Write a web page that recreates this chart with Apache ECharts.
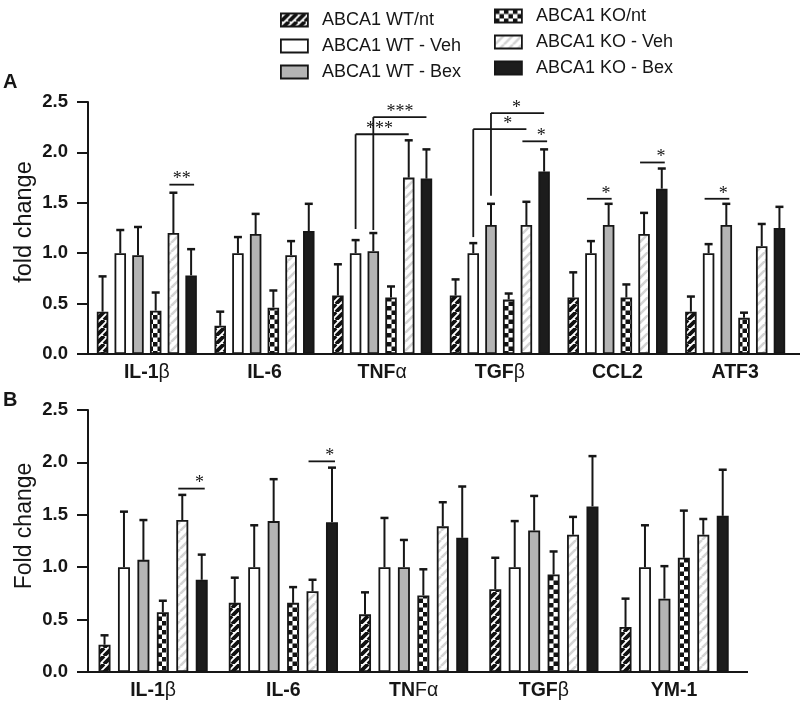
<!DOCTYPE html>
<html><head><meta charset="utf-8">
<script src="https://cdn.jsdelivr.net/npm/echarts@6/dist/echarts.min.js"></script>
<style>html,body{margin:0;padding:0;background:#fff}#c{width:800px;height:706px}</style>
</head><body><div id="c"></div>
<script>
// ---------- data ----------
const groups = ['ABCA1 WT/nt','ABCA1 WT - Veh','ABCA1 WT - Bex','ABCA1 KO/nt','ABCA1 KO - Veh','ABCA1 KO - Bex'];
const yTicks = [0, 0.5, 1.0, 1.5, 2.0, 2.5];

// Panel A
const catsA = ['IL-1β','IL-6','TNFα','TGFβ','CCL2','ATF3'];
const wtNtA  = [0.42, 0.28, 0.58, 0.58, 0.56, 0.42];
const wtVehA = [1.00, 1.00, 1.00, 1.00, 1.00, 1.00];
const wtBexA = [0.98, 1.19, 1.02, 1.28, 1.28, 1.28];
const koNtA  = [0.43, 0.46, 0.56, 0.54, 0.56, 0.36];
const koVehA = [1.20, 0.98, 1.75, 1.28, 1.19, 1.07];
const koBexA = [0.78, 1.22, 1.74, 1.81, 1.64, 1.25];
const wtNtErrA  = [0.35, 0.14, 0.31, 0.16, 0.25, 0.15];
const wtVehErrA = [0.23, 0.16, 0.13, 0.10, 0.12, 0.09];
const wtBexErrA = [0.28, 0.20, 0.18, 0.21, 0.21, 0.21];
const koNtErrA  = [0.18, 0.17, 0.11, 0.06, 0.13, 0.05];
const koVehErrA = [0.40, 0.14, 0.37, 0.23, 0.21, 0.22];
const koBexErrA = [0.26, 0.27, 0.29, 0.22, 0.20, 0.21];
// significance: [category, fromBar, toBar, lineValue, stars, stemBottomValue, labelFraction]
const sigA = [
  ['IL-1β', 4, 5, 1.68, '**', null, 0.5],
  ['TNFα', 1, 4, 2.18, '***', 1.24, 0.45],
  ['TNFα', 2, 5, 2.35, '***', 1.23, 0.5],
  ['TGFβ', 1, 4, 2.23, '*', 1.16, 0.65],
  ['TGFβ', 2, 5, 2.39, '*', 1.57, 0.48],
  ['TGFβ', 4, 5, 2.11, '*', null, 0.76],
  ['CCL2', 1, 2, 1.54, '*', null, 0.77],
  ['CCL2', 4, 5, 1.90, '*', null, 0.85],
  ['ATF3', 1, 2, 1.54, '*', null, 0.75]
];

// Panel B
const catsB = ['IL-1β','IL-6','TNFα','TGFβ','YM-1'];
const wtNtB  = [0.26, 0.66, 0.55, 0.79, 0.43];
const wtVehB = [1.00, 1.00, 1.00, 1.00, 1.00];
const wtBexB = [1.07, 1.44, 1.00, 1.35, 0.70];
const koNtB  = [0.57, 0.66, 0.73, 0.93, 1.09];
const koVehB = [1.45, 0.77, 1.39, 1.31, 1.31];
const koBexB = [0.88, 1.43, 1.28, 1.58, 1.49];
const wtNtErrB  = [0.09, 0.24, 0.21, 0.30, 0.27];
const wtVehErrB = [0.53, 0.40, 0.47, 0.44, 0.40];
const wtBexErrB = [0.38, 0.40, 0.26, 0.33, 0.31];
const koNtErrB  = [0.11, 0.15, 0.25, 0.22, 0.45];
const koVehErrB = [0.24, 0.11, 0.23, 0.17, 0.15];
const koBexErrB = [0.24, 0.52, 0.49, 0.48, 0.44];
const sigB = [
  ['IL-1β', 4, 5, 1.75, '*', null, 0.8],
  ['IL-6', 4, 5, 2.01, '*', null, 0.8]
];

const valsA = [wtNtA, wtVehA, wtBexA, koNtA, koVehA, koBexA];
const errsA = [wtNtErrA, wtVehErrA, wtBexErrA, koNtErrA, koVehErrA, koBexErrA];
const valsB = [wtNtB, wtVehB, wtBexB, koNtB, koVehB, koBexB];
const errsB = [wtNtErrB, wtVehErrB, wtBexErrB, koNtErrB, koVehErrB, koBexErrB];

// ---------- styles ----------
const FONT = '"Liberation Sans", Arial, sans-serif';
const INK = '#161616';
function hatch(fg, bg, size, lw) {
  const c = document.createElement('canvas'); c.width = size; c.height = size;
  const g = c.getContext('2d');
  g.fillStyle = bg; g.fillRect(0, 0, size, size);
  g.strokeStyle = fg; g.lineWidth = lw; g.beginPath();
  for (const k of [-size, 0, size]) { g.moveTo(k, size); g.lineTo(k + size, 0); }
  g.stroke();
  return { image: c, repeat: 'repeat' };
}
function checker(size) {
  const c = document.createElement('canvas'); c.width = size * 2; c.height = size * 2;
  const g = c.getContext('2d');
  g.fillStyle = '#ffffff'; g.fillRect(0, 0, size * 2, size * 2);
  g.fillStyle = '#111111'; g.fillRect(0, 0, size, size); g.fillRect(size, size, size, size);
  return { image: c, repeat: 'repeat' };
}
const fills = [
  hatch('#111111', '#ffffff', 8, 3.8),
  '#ffffff',
  '#b4b4b4',
  checker(4.5),
  hatch('#d4d4d4', '#ffffff', 9, 2.6),
  '#1c1c1c'
];

const BW_A = 11.5, GAP_A = 0.54, PITCH_A = BW_A * (1 + GAP_A);
const BW_B = 12, GAP_B = 0.62, PITCH_B = BW_B * (1 + GAP_B);

function catLabel(panel) {
  return function (v) {
    if (panel === 'B' && v === 'TNFα') return '{b|TN}{g|Fα}';
    return v.replace(/([^\u0370-\u03FF]+)|([\u0370-\u03FF]+)/g, (m, a, b) => a ? '{b|' + a + '}' : '{g|' + b + '}');
  };
}
const richCat = {
  b: { fontFamily: FONT, fontWeight: 'bold', fontSize: 19.5, color: INK },
  g: { fontFamily: FONT, fontWeight: 'normal', fontSize: 19.5, color: INK }
};

function xAxisFor(idx, cats, panel) {
  return {
    type: 'category', gridIndex: idx, data: cats,
    axisLine: { lineStyle: { color: INK, width: 2 } },
    axisTick: { alignWithLabel: true, length: 6, lineStyle: { color: INK, width: 2 } },
    axisLabel: { margin: 9, formatter: catLabel(panel), rich: richCat }
  };
}
function yAxisFor(idx) {
  return {
    type: 'value', gridIndex: idx, min: 0, max: 2.5, interval: 0.5,
    splitLine: { show: false },
    axisLine: { show: true, lineStyle: { color: INK, width: 2 } },
    axisTick: { show: true, length: 11, lineStyle: { color: INK, width: 2 } },
    axisLabel: { margin: 20, fontFamily: FONT, fontWeight: 'bold', fontSize: 18.5, color: INK,
      formatter: v => yTicks.includes(v) ? v.toFixed(1) : '' }
  };
}

function errRender(pitch) {
  return function (params, api) {
    const cat = api.value(0), v = api.value(1), e = api.value(2), bi = api.value(3);
    const base = api.coord([cat, v]);
    const top = api.coord([cat, v + e]);
    const x = base[0] + (bi - 2.5) * pitch;
    return { type: 'group', children: [
      { type: 'line', shape: { x1: x, y1: base[1], x2: x, y2: top[1] }, style: { stroke: INK, lineWidth: 2 } },
      { type: 'line', shape: { x1: x - 4, y1: top[1], x2: x + 4, y2: top[1] }, style: { stroke: INK, lineWidth: 2.5 } }
    ] };
  };
}
function sigRender(list, pitch) {
  return function (params, api) {
    const s = list[params.dataIndex];
    const cat = api.value(0);
    const c = api.coord([cat, s[3]]);
    const xi = c[0] + (s[1] - 2.5) * pitch, xj = c[0] + (s[2] - 2.5) * pitch;
    const stem = s[5];
    const x1 = stem != null ? xi : xi - 4, x2 = stem != null ? xj : xj + 3;
    const st = { stroke: INK, lineWidth: 1.8 };
    const ch = [{ type: 'line', shape: { x1: x1, y1: c[1], x2: x2, y2: c[1] }, style: st }];
    if (stem != null) {
      const yb = api.coord([cat, stem])[1];
      ch.push({ type: 'line', shape: { x1: xi, y1: yb, x2: xi, y2: c[1] }, style: st });
    }
    ch.push({ type: 'text', x: x1 + s[6] * (x2 - x1), y: c[1] + 4,
      style: { text: s[4], font: '18px "Liberation Serif", serif', fill: INK, align: 'center', verticalAlign: 'bottom' } });
    return { type: 'group', children: ch };
  };
}

function panelSeries(idx, vals, errs, cats, sig, bw, gap, pitch) {
  const out = [];
  groups.forEach((name, i) => {
    out.push({
      type: 'bar', name: name, xAxisIndex: idx, yAxisIndex: idx,
      data: vals[i], barWidth: bw, barGap: (gap * 100) + '%',
      itemStyle: { color: fills[i], borderColor: INK, borderWidth: 1.8 },
      emphasis: { disabled: true }, z: 2
    });
  });
  const ed = [];
  vals.forEach((arr, i) => arr.forEach((v, k) => ed.push([k, v, errs[i][k], i])));
  out.push({ type: 'custom', xAxisIndex: idx, yAxisIndex: idx, data: ed, renderItem: errRender(pitch), z: 3, silent: true });
  out.push({ type: 'custom', xAxisIndex: idx, yAxisIndex: idx,
    data: sig.map(s => [cats.indexOf(s[0]), s[3]]), renderItem: sigRender(sig, pitch), z: 4, silent: true, clip: false });
  return out;
}

const legendBase = {
  orient: 'vertical', icon: 'rect', itemWidth: 27, itemHeight: 13, itemGap: 8,
  selectedMode: false,
  itemStyle: { borderColor: INK, borderWidth: 1.8 },
  textStyle: { fontFamily: FONT, fontSize: 18, color: INK, padding: [0, 0, 0, 9] }
};

const chart = echarts.init(document.getElementById('c'), null, { renderer: 'canvas' });
chart.setOption({
  animation: false,
  backgroundColor: '#ffffff',
  legend: [
    Object.assign({}, legendBase, { left: 275, top: 6, data: groups.slice(0, 3) }),
    Object.assign({}, legendBase, { left: 489, top: 2, data: groups.slice(3) })
  ],
  grid: [
    { left: 88, top: 102, right: 6, height: 252 },
    { left: 88, top: 410, right: 60.75, height: 262 }
  ],
  xAxis: [xAxisFor(0, catsA, 'A'), xAxisFor(1, catsB, 'B')],
  yAxis: [yAxisFor(0), yAxisFor(1)],
  graphic: [
    { type: 'text', left: 3, top: 72, style: { text: 'A', font: 'bold 20px ' + FONT, fill: INK } },
    { type: 'text', left: 3, top: 390, style: { text: 'B', font: 'bold 20px ' + FONT, fill: INK } },
    { type: 'text', x: 25, y: 222, rotation: Math.PI / 2,
      style: { text: 'fold change', font: '23.5px ' + FONT, fill: INK, align: 'center', verticalAlign: 'middle' } },
    { type: 'text', x: 25, y: 526, rotation: Math.PI / 2,
      style: { text: 'Fold change', font: '23px ' + FONT, fill: INK, align: 'center', verticalAlign: 'middle' } },
    // axis-line overhang beyond the last category, as in the original figure
    { type: 'line', z: 10, shape: { x1: 760, y1: 354, x2: 800, y2: 354 }, style: { stroke: INK, lineWidth: 2 } },
    { type: 'line', z: 10, shape: { x1: 700, y1: 672, x2: 748, y2: 672 }, style: { stroke: INK, lineWidth: 2 } }
  ],
  series: [].concat(
    panelSeries(0, valsA, errsA, catsA, sigA, BW_A, GAP_A, PITCH_A),
    panelSeries(1, valsB, errsB, catsB, sigB, BW_B, GAP_B, PITCH_B)
  )
});
</script></body></html>
